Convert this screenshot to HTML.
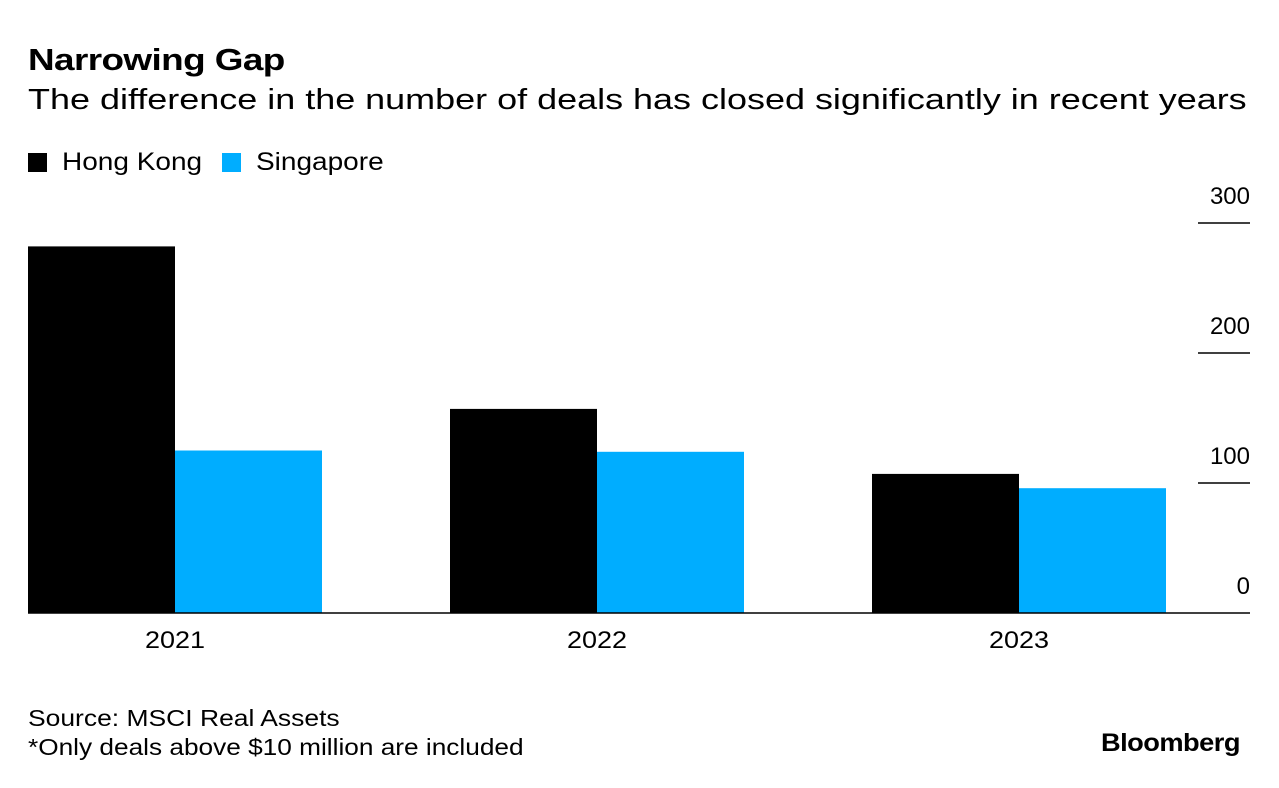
<!DOCTYPE html>
<html><head><meta charset="utf-8">
<style>
body{margin:0;width:1279px;height:788px;background:#fff;font-family:"Liberation Sans",Arial,sans-serif;color:#000;position:relative;overflow:hidden}
.t{position:absolute;white-space:nowrap;transform-origin:0 0}
</style></head><body>
<div class="t" style="left:28px;top:42px;font-size:31px;font-weight:bold;letter-spacing:-0.5px;transform:scaleX(1.19)">Narrowing Gap</div>
<div class="t" style="left:28px;top:84px;font-size:29px;transform:scaleX(1.24)">The difference in the number of deals has closed significantly in recent years</div>
<div class="t" style="left:28px;top:148px;font-size:25px"><span style="display:inline-block;width:19px;height:19px;background:#000;vertical-align:-2px;margin-right:15px"></span><span style="display:inline-block;transform:scaleX(1.12);transform-origin:0 0">Hong Kong</span></div>
<div class="t" style="left:222px;top:148px;font-size:25px"><span style="display:inline-block;width:19px;height:19px;background:#00adff;vertical-align:-2px;margin-right:15px"></span><span style="display:inline-block;transform:scaleX(1.12);transform-origin:0 0">Singapore</span></div>
<svg id="chart" width="1279" height="788" style="position:absolute;left:0;top:0"></svg>
<div class="t" style="left:28px;top:705px;font-size:23px;transform:scaleX(1.15)">Source: MSCI Real Assets</div>
<div class="t" style="left:28px;top:734px;font-size:23px;transform:scaleX(1.14)">*Only deals above $10 million are included</div>
<div class="t" style="left:1101px;top:729px;font-size:25px;font-weight:bold;letter-spacing:-0.5px;transform:scaleX(1.09)">Bloomberg</div>
<script>
const categories=["2021","2022","2023"];
const hongKong=[282,157,107];
const singapore=[125,124,96];
const ticks=[0,100,200,300];
const svg=document.getElementById('chart');
const NS="http://www.w3.org/2000/svg";
const base=613, pxPer=1.3;
const y=v=>base-v*pxPer;
const x0=28, band=422, bw=147;
function mk(tag,attrs){const e=document.createElementNS(NS,tag);for(const k in attrs)e.setAttribute(k,attrs[k]);svg.appendChild(e);return e;}
categories.forEach((c,i)=>{
  const bx=x0+i*band;
  const r1=mk('rect',{x:bx,y:y(hongKong[i]),width:bw,height:hongKong[i]*pxPer,fill:'#000'});
  
  
  const r2=mk('rect',{x:bx+bw,y:y(singapore[i]),width:bw,height:singapore[i]*pxPer,fill:'#00adff'});
  
  
  const t=mk('text',{x:bx+bw,y:648,'text-anchor':'middle','font-size':24,'font-family':'Liberation Sans, Arial, sans-serif',textLength:60,lengthAdjust:'spacingAndGlyphs'});
  t.textContent=c;
  
  
});
ticks.forEach(v=>{
  if(v>0){
    const l=mk('line',{x1:1198,x2:1250,y1:y(v),y2:y(v),stroke:'#000','stroke-width':1.5});
    
    
  }
  const t=mk('text',{x:1250,y:y(v)-19,'text-anchor':'end','font-size':24,'font-family':'Liberation Sans, Arial, sans-serif'});
  t.textContent=v;
  
  
});
const ax=mk('line',{x1:28,x2:1250,y1:base,y2:base,stroke:'#000','stroke-width':1.5});


</script>
</body></html>
